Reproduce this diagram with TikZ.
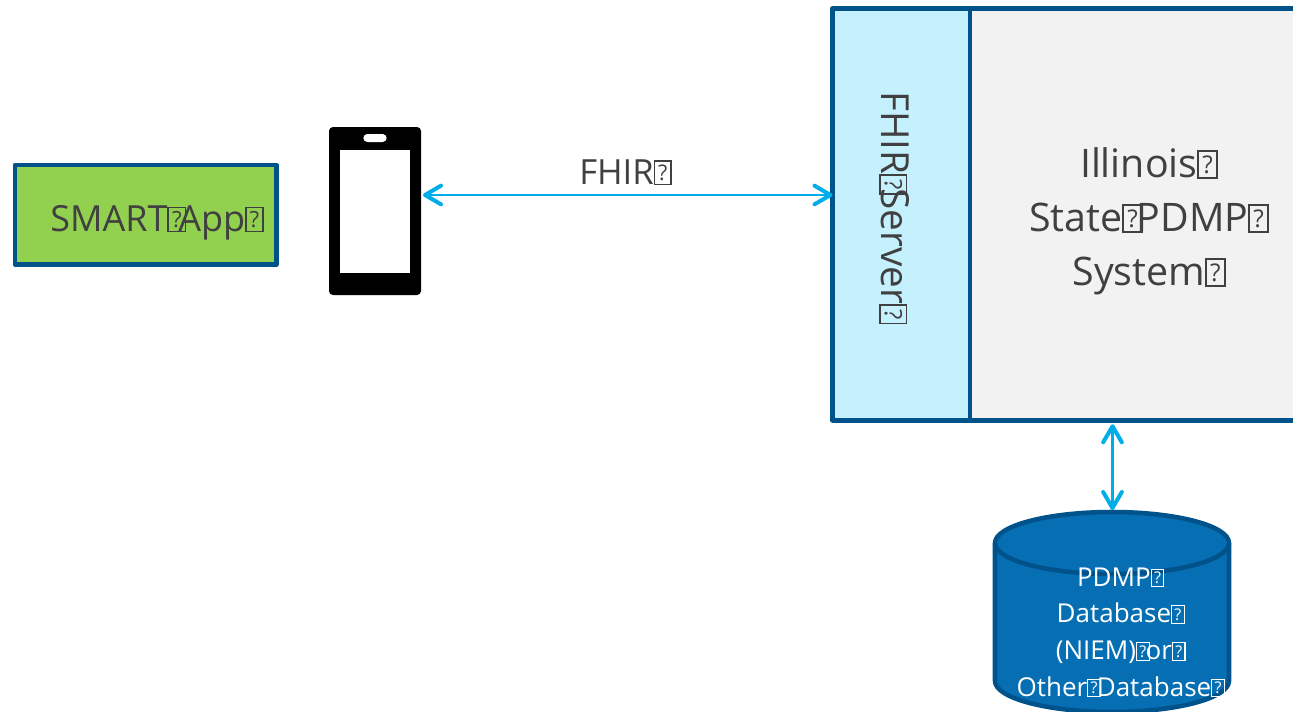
\documentclass[tikz,border=0pt]{standalone}
\usepackage{fontspec}
\usetikzlibrary{arrows.meta,calc}
\setmainfont{Open Sans}
\definecolor{edgeblue}{HTML}{00538A}
\definecolor{linkblue}{HTML}{00ADE8}
\definecolor{appgreen}{HTML}{92D050}
\definecolor{serverblue}{HTML}{C5F1FF}
\definecolor{sysgray}{HTML}{F2F2F2}
\definecolor{dbblue}{HTML}{066FB4}
\definecolor{inkgray}{HTML}{404040}
% the boxed question mark that the reference prints after each word
\newcommand{\tofu}{{\fboxsep=0pt\fboxrule=.04em\fbox{\vbox to .64em{\vss\hbox to .44em{\hss\scalebox{.62}{?}\hss}\vss}}}}
\newcommand{\tofuk}{\tofu\kern-.15em}
\tikzset{
  x=.75pt,y=-.75pt,
  panel/.style={draw=edgeblue,line width=3.4pt,line join=round,inner sep=0pt,outer sep=0pt},
  link/.style={draw=linkblue,line width=2.2pt,{Straight Barb[length=12pt,width=14pt,line width=3pt,round]}-{Straight Barb[length=12pt,width=14pt,line width=3pt,round]}},
  largetext/.style={text=inkgray,font=\fontsize{27}{40.5}\selectfont,align=center,inner sep=0pt},
  bigtext/.style={text=inkgray,font=\fontsize{29.5}{40.5}\selectfont,align=center,inner sep=0pt},
  sidetext/.style={text=inkgray,font=\fontsize{29}{40.5}\selectfont,inner sep=0pt},
  smalltext/.style={text=white,font=\fontsize{19.5}{27.5}\selectfont,align=center,inner sep=0pt},
}
\begin{document}
\begin{tikzpicture}
\useasboundingbox (0,0) rectangle (1293,711);
\clip (0,0) rectangle (1293,711);
% SMART app
\node[panel,fill=appgreen,minimum width=196pt,minimum height=74.6pt,anchor=north west] (app) at (15,165) {};
\node[largetext,anchor=base west] (applabel) at (50,231) {SMART\tofu\kern-.22em App\tofu};
% phone
\node[fill=black,rounded corners=3pt,minimum width=69pt,minimum height=126pt,inner sep=0pt,outer sep=0pt,anchor=north west] (phone) at (329,127) {};
\node[fill=white,minimum width=52.5pt,minimum height=92.25pt,inner sep=0pt,anchor=north west] (screen) at (340,149.5) {};
\node[fill=white,rounded corners=3pt,minimum width=17.5pt,minimum height=6pt,inner sep=0pt] (speaker) at (375,138) {};
% server and system
\node[panel,fill=sysgray,minimum width=300pt,minimum height=309pt,anchor=north west] (system) at (970,8.3) {};
\node[panel,fill=serverblue,minimum width=103.1pt,minimum height=309pt,anchor=north west] (server) at (832.5,8.3) {};
\node[sidetext,rotate=-90,anchor=base west] (serverlabel) at (881,91) {FHIR\tofuk Server\tofu};
\node[bigtext] (systemlabel) at (1149,221) {Illinois\tofu\\State\tofuk PDMP\tofu\\System\tofu};
% links
\coordinate (fhirrow) at (0,195);
\coordinate (dbtop) at (1112.5,510);
\node[text=inkgray,font=\fontsize{26}{30}\selectfont,inner sep=0pt,anchor=base west] (fhirlabel) at (579,184) {FHIR\tofu};
% database
\draw[draw=edgeblue,fill=dbblue,line width=3.4pt,line join=round] (995,543) -- (995,681) arc[start angle=180,end angle=0,x radius=117,y radius=31] -- (1229,543) arc[start angle=0,end angle=-180,x radius=117,y radius=31] -- cycle;
\draw[draw=edgeblue,line width=3.4pt] (995,543) arc[start angle=180,end angle=0,x radius=117,y radius=31];
\node[smalltext] (dblabel) at (1120.7,632.5) {PDMP\tofu\\Database\tofu\\(NIEM)\tofuk or\tofu\\Other\tofuk Database\tofu};
\draw[link] (phone.east |- fhirrow) ++(2,0) -- (server.west |- fhirrow);
\draw[link] (dbtop |- system.south) ++(0,4) -- (dbtop);
\end{tikzpicture}
\end{document}
